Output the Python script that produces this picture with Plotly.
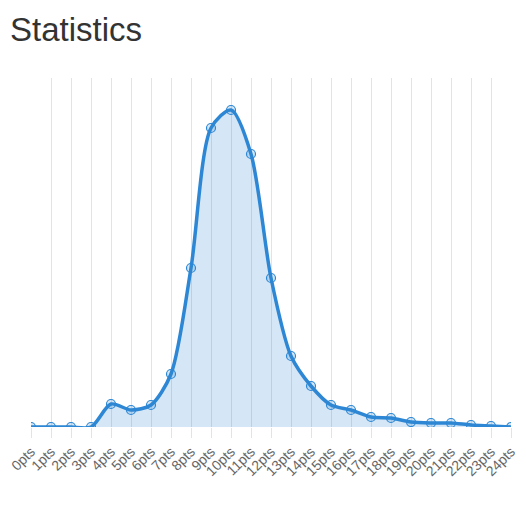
import plotly.graph_objects as go

# points scored -> frequency
points = list(range(25))
labels = [str(p) + "pts" for p in points]
counts = [0, 0, 0, 0, 23, 17, 22, 53, 159, 299, 317, 273, 149, 71, 41,
          22, 17, 10, 9, 5, 4, 4, 2, 1, 0]

blue = "#2d87d4"

fig = go.Figure()
fig.add_trace(go.Scatter(
    x=points, y=counts,
    mode="lines+markers",
    line=dict(color=blue, width=3.5, shape="spline", smoothing=0.8),
    marker=dict(symbol="circle", size=9, color="rgba(45,135,212,0.2)",
                line=dict(width=1.2, color=blue)),
    fill="tozeroy", fillcolor="rgba(45,135,212,0.2)",
    hoverinfo="x+y",
))

# page body adds 8px margin, so the figure is sized to fit inside it
fig.update_layout(
    width=518, height=502,
    margin=dict(l=23, r=15, t=70, b=83),
    paper_bgcolor="white", plot_bgcolor="white",
    showlegend=False,
    font=dict(family="Liberation Sans, Arial, sans-serif", color="#666"),
    title=dict(text="Statistics", x=0.004, xanchor="left", y=0.958, yanchor="middle",
               font=dict(size=33, color="#333")),
    xaxis=dict(
        range=[0, 24], tickmode="array", tickvals=points, ticktext=labels,
        tickangle=-45, tickfont=dict(size=14, color="#666"),
        showgrid=True, gridcolor="#e3e3e3", gridwidth=1,
        ticks="outside", ticklen=10, tickcolor="#e3e3e3",
        zeroline=False, showline=False, automargin=False,
    ),
    yaxis=dict(range=[0, 349], visible=False, showgrid=False, zeroline=False),
)

fig.write_html("out.html")
